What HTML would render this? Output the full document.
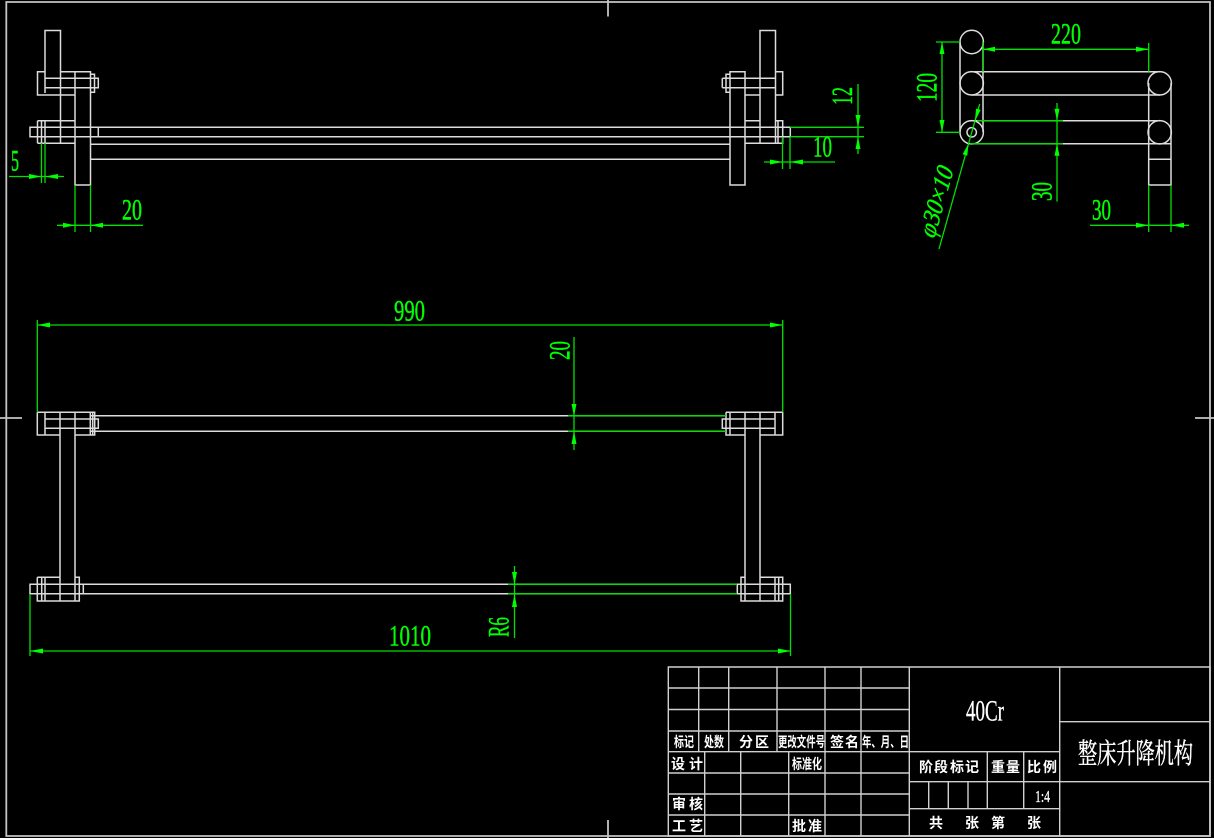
<!DOCTYPE html>
<html><head><meta charset="utf-8"><style>
html,body{margin:0;padding:0;background:#000;width:1214px;height:838px;overflow:hidden}
svg{display:block}
.g{font-family:"Liberation Serif",serif;font-size:30px;fill:#00ff00;stroke:#00ff00;stroke-width:.45}
.c{font-family:"Liberation Sans","Noto Sans CJK SC",sans-serif;font-size:14px;font-weight:700;fill:#fff;text-anchor:middle}
.d{text-anchor:start}
</style></head><body>
<svg width="1214" height="838" viewBox="0 0 1214 838" xmlns="http://www.w3.org/2000/svg">
<rect width="1214" height="838" fill="#000"/>
<path fill="none" stroke="#c4c4c4" stroke-width="1.8" d="M6.3 2H1210V836H6.3Z M0 418H22 M1195 418H1214 M608 0V16.5 M608 820V838"/>
<g fill="none" stroke="#dcdcdc" stroke-width="1.5">
<path d="M45 93V30.5H60.5V143 M45 71.7H37.5V95H75 M60.5 71.7H90.5V185H75V71.7 M90.5 74.3H94.5V92.3H90.5 M45 78.3H98.3V87.7H45 M37.5 120.7H75 M37.5 143.3H75 M37.5 120.7V143.3 M41.5 120.7V143.3 M45 120.7V143.3 M30 127.3H790.3V136.7H30Z M98.3 127.3V136.7 M90.5 144.3H730 M90.5 159.3H730"/>
<path d="M730 71.7H745V185H730Z M745 95H760 M760 143V30.5H775.5V143 M775.5 71.7H782.7V95H775.5 M730 74.3H726V92.3H730 M722.3 78.3H775 M722.3 87.7H775 M722.3 78.3V87.7 M745 120.7H760 M775.5 120.7H782.7V143.3H745V120.7 M778 120.7V143.3"/>
<circle cx="971.7" cy="42" r="11.7"/><circle cx="971.7" cy="83.3" r="11.7"/><circle cx="971.7" cy="132.3" r="11.7"/><circle cx="971.7" cy="132.3" r="4.7"/><circle cx="1159.7" cy="83.3" r="11.7"/><circle cx="1159.7" cy="132.3" r="11.7"/>
<path d="M960 42V132 M983 42V132 M971.7 71.7H1160 M971.7 95H1160 M971.7 120.7H1160 M971.7 143.7H1171 M1148.7 83V185H1171V83 M1148.7 159.3H1171"/>
<path d="M37.3 412.3H94.7V435H75 M60 435H37.3V412.3 M45 412.3V435 M60 412.3V577.3 M75 412.3V577.3 M90.3 412.3V435 M92.7 412.3V435 M94.7 412.3V435 M45 419H98.3V428.3H45 M90.3 415.7H726 M90.3 431.3H726"/>
<path d="M37.3 577.3H60 M75 577.3H79.3V601H37.3V577.3 M41.7 577.3V601 M45 577.3V601 M60 577.3V601 M75 577.3V601 M30 584.3H790.3V593.7H30Z M83.3 584.3V593.7"/>
<path d="M726 412.3H782.7V435H760 M745 435H726V412.3 M730 412.3V435 M745 412.3V577.3 M760 412.3V577.3 M775 412.3V435 M730 419H722.3V428.3H775 M722.3 419H775 M745 577.3H741V601H782.7V577.3H760 M745 577.3V601 M760 577.3V601 M775 577.3V601 M778.7 577.3V601 M737.3 584.3V593.7"/>
</g>
<g fill="none" stroke="#d0d0d0" stroke-width="1.4">
<path d="M668.3 667H1210V836H668.3Z M668.3 688H909 M668.3 709.5H909 M668.3 731H909 M668.3 751.7H1059.7 M668.3 773H909 M668.3 794H909 M668.3 815H909 M1059.7 721.7H1210 M909.3 781.7H1210 M909.3 808.7H1059.7"/>
<path d="M698.7 667V751.7 M728.7 667V751.7 M777 667V751.7 M825 667V836 M861 667V836 M909.3 667V836 M704.7 751.7V836 M740.7 751.7V836 M788.7 751.7V836 M1059.7 667V836 M987.3 751.7V808.7 M1023.7 751.7V808.7 M928.7 781.7V808.7 M948.3 781.7V808.7 M968 781.7V808.7"/>
</g>
<g fill="none" stroke="#00e000" stroke-width="1.3">
<path d="M41.5 143V183 M45 143V183 M9 176.5H64 M75 185V232 M90.5 185V232 M57 225.3H143"/>
<path d="M790 127.3H864 M790 136.7H864 M858 84V154 M782.5 137V169 M790 137V169 M764 162H835"/>
<path d="M1148.7 43V71.7 M983 42V72 M983 49.3H1148.7 M936 42H960 M936 132.3H960 M942 42V132.3 M1057 103V201.6 M977 120.7H1063 M970 143.7H1063 M1148.7 185V232 M1171 185V232 M1090 225.3H1189 M979.7 104L939 249"/>
<path d="M37.3 320V412.3 M782.7 320V412.3 M37.3 325H782.7 M574 337V450 M568 415.7H726 M568 431.3H726 M514.5 566V638 M508 584.3H737 M508 593.7H737 M30 594V656 M790.5 594V656 M30 651H790.5"/>
</g>
<g fill="#00ff00">
<path d="M41.5 176.5L29 174V179Z M45 176.5L58 174V179Z M75 225.3L63 222.8V227.8Z M90.5 225.3L103 222.8V227.8Z"/>
<path d="M858 127.3L855.5 115H860.5Z M858 136.7L855.5 149H860.5Z M782.5 162L770 159.5V164.5Z M790 162L803 159.5V164.5Z"/>
<path d="M983 49.3L995 46.8V51.8Z M1148.7 49.3L1136 46.8V51.8Z M942 42L939.5 54H944.5Z M942 132.3L939.5 120H944.5Z M1057 120.7L1054.5 108.7H1059.5Z M1057 143.7L1054.5 155.7H1059.5Z M1148.7 225.3L1136 222.8V227.8Z M1171 225.3L1184 222.8V227.8Z"/>
<path d="M975 121L976 108.6 980.7 109.9Z M968.5 143.6L962.6 154.3 967.3 155.7Z"/>
<path d="M37.3 325L50 322.5V327.5Z M782.7 325L770 322.5V327.5Z M574 416L571.5 404H576.5Z M574 431L571.5 444H576.5Z M514.5 584.5L512 572H517Z M514.5 594L512 607H517Z M30 651L43 648.5V653.5Z M790.5 651L778 648.5V653.5Z"/>
</g>
<g class="g">
<text x="11" y="170.500" textLength="8" lengthAdjust="spacingAndGlyphs">5</text>
<text x="122" y="219.500" textLength="20" lengthAdjust="spacingAndGlyphs">20</text>
<text x="813" y="156.500" textLength="19" lengthAdjust="spacingAndGlyphs">10</text>
<text transform="translate(852.2 105) rotate(-90)" textLength="18" lengthAdjust="spacingAndGlyphs">12</text>
<text x="1051" y="43.500" textLength="30" lengthAdjust="spacingAndGlyphs">220</text>
<text transform="translate(936.5 102) rotate(-90)" textLength="29" lengthAdjust="spacingAndGlyphs">120</text>
<text transform="translate(1051.500 201) rotate(-90)" textLength="19" lengthAdjust="spacingAndGlyphs">30</text>
<text x="1092" y="219.500" textLength="19" lengthAdjust="spacingAndGlyphs">30</text>
<text transform="translate(934 240) rotate(-74.3) skewX(-15)" font-size="25" textLength="72" lengthAdjust="spacingAndGlyphs">φ30×10</text>
<text x="394" y="320.500" textLength="31" lengthAdjust="spacingAndGlyphs">990</text>
<text x="389" y="645.500" textLength="42" lengthAdjust="spacingAndGlyphs">1010</text>
<text transform="translate(569.5 360) rotate(-90)" textLength="19" lengthAdjust="spacingAndGlyphs">20</text>
<text transform="translate(508.5 637) rotate(-90)" textLength="20" lengthAdjust="spacingAndGlyphs">R6</text>
</g>
<text x="966" y="720.500" textLength="38" lengthAdjust="spacingAndGlyphs" font-family="'Liberation Serif',serif" font-size="30" fill="#fff" stroke="#fff" stroke-width=".3">40Cr</text>
<text x="1035" y="802" textLength="15" lengthAdjust="spacingAndGlyphs" font-family="'Liberation Serif',serif" font-size="17" fill="#fff" stroke="#fff" stroke-width=".3">1:4</text>
<text x="1078" y="763" textLength="115" lengthAdjust="spacingAndGlyphs" font-family="'Liberation Serif','Noto Serif CJK SC',serif" font-size="28" fill="#fff" stroke="#fff" stroke-width=".4">整床升降机构</text>
<g class="c">
<text class="d" x="674" y="747" textLength="20" lengthAdjust="spacingAndGlyphs">标记</text>
<text class="d" x="704" y="747" textLength="20" lengthAdjust="spacingAndGlyphs">处数</text>
<text x="746 762" y="747">分区</text>
<text class="d" x="778" y="747" textLength="47" lengthAdjust="spacingAndGlyphs">更改文件号</text>
<text x="837 852" y="747">签名</text>
<text class="d" x="862" y="747" textLength="47" lengthAdjust="spacingAndGlyphs">年、月、日</text>
<text x="678 696" y="769">设计</text>
<text class="d" x="792" y="769" textLength="30" lengthAdjust="spacingAndGlyphs">标准化</text>
<text x="679 696" y="809">审核</text>
<text x="679 696" y="831">工艺</text>
<text x="799 815" y="831">批准</text>
<text x="926 941 957 972" y="772">阶段标记</text>
<text x="998 1013" y="772">重量</text>
<text x="1034 1050" y="772">比例</text>
<text x="936 972 998 1034" y="828">共张第张</text>
</g>
</svg>
</body></html>
